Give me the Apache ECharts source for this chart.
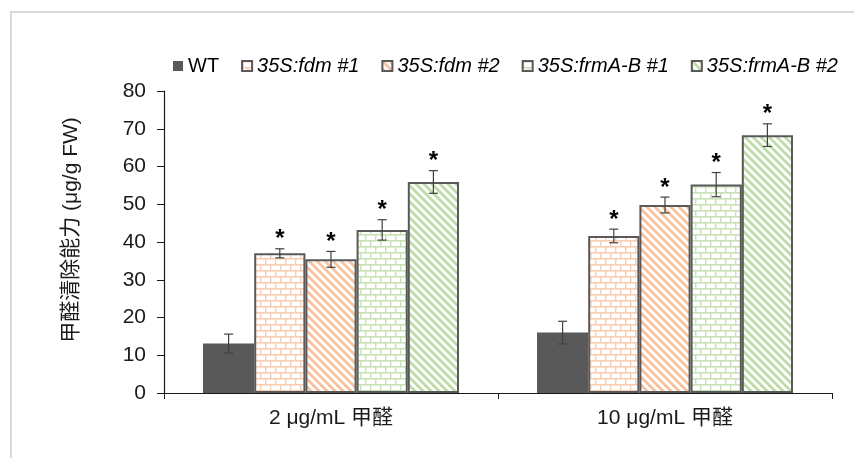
<!DOCTYPE html>
<html><head><meta charset="utf-8">
<script src="https://cdn.jsdelivr.net/npm/echarts@6/dist/echarts.min.js"></script>
<style>html,body{margin:0;padding:0;background:#fff}#c{width:854px;height:458px}</style>
</head><body><div id="c"></div>
<script>
const categories = ['2 μg/mL 甲醛', '10 μg/mL 甲醛'];
const seriesNames = ['WT', '35S:fdm #1', '35S:fdm #2', '35S:frmA-B #1', '35S:frmA-B #2'];
const valuesWT = [13.1, 16.0];
const valuesFdm1 = [37.0, 41.6];
const valuesFdm2 = [35.4, 49.8];
const valuesFrm1 = [43.2, 55.2];
const valuesFrm2 = [55.9, 68.3];
const errWT = [2.5, 3.0];
const errFdm1 = [1.2, 1.8];
const errFdm2 = [2.1, 2.1];
const errFrm1 = [2.7, 3.2];
const errFrm2 = [3.0, 3.0];
const sigWT = [false, false];
const sigFdm1 = [true, true];
const sigFdm2 = [true, true];
const sigFrm1 = [true, true];
const sigFrm2 = [true, true];
const yTicks = [0, 10, 20, 30, 40, 50, 60, 70, 80];

const allValues = [valuesWT, valuesFdm1, valuesFdm2, valuesFrm1, valuesFrm2];
const allErr = [errWT, errFdm1, errFdm2, errFrm1, errFrm2];
const allSig = [sigWT, sigFdm1, sigFdm2, sigFrm1, sigFrm2];

function brick(color) {
  const c = document.createElement('canvas');
  c.width = 10; c.height = 12;
  const g = c.getContext('2d');
  g.fillStyle = '#fff'; g.fillRect(0, 0, 10, 12);
  g.fillStyle = color;
  g.fillRect(0, 0, 10, 1.6);
  g.fillRect(0, 6, 10, 1.6);
  g.fillRect(0, 0, 1.4, 6);
  g.fillRect(5, 6, 1.4, 6);
  return c;
}
function diag(color) {
  const c = document.createElement('canvas');
  c.width = 8; c.height = 8;
  const g = c.getContext('2d');
  g.fillStyle = '#fff'; g.fillRect(0, 0, 8, 8);
  g.strokeStyle = color; g.lineWidth = 2.8;
  for (const x0 of [-8, 0, 8]) {
    g.beginPath(); g.moveTo(x0 - 1, -1); g.lineTo(x0 + 9, 9); g.stroke();
  }
  return c;
}
const orange = '#F6C2A0';
const green = '#BDDCA8';
const orangeBrick = '#F8CDB0';
const greenBrick = '#C8E2B6';
const fills = [
  '#595959',
  { image: brick(orangeBrick), repeat: 'repeat' },
  { image: diag(orange), repeat: 'repeat' },
  { image: brick(greenBrick), repeat: 'repeat' },
  { image: diag(green), repeat: 'repeat' }
];

const FONT = 'Liberation Sans, Arial, Noto Sans CJK SC, sans-serif';
const BARFRAC = 0.1533;

const series = [];
seriesNames.forEach((n, i) => {
  series.push({
    name: n, type: 'bar', barWidth: (BARFRAC * 100) + '%', barGap: '0%',
    data: allValues[i],
    itemStyle: { color: fills[i], borderColor: '#595959', borderWidth: i === 0 ? 0 : 2 },
    emphasis: { disabled: true }
  });
});
seriesNames.forEach((n, i) => {
  const data = allValues[i].map((v, c) => [c, v, allErr[i][c], allSig[i][c] ? 1 : 0]);
  series.push({
    type: 'custom', z: 10, silent: true,
    data: data,
    encode: { x: 0, y: 1 },
    renderItem: function (params, api) {
      const c = api.value(0), v = api.value(1), e = api.value(2), s = api.value(3);
      const catW = api.size([1, 0])[0];
      const bw = catW * BARFRAC;
      const center = api.coord([c, v]);
      const x = center[0] + (i - 2) * bw;
      const yTop = api.coord([c, v + e])[1];
      const yBot = api.coord([c, v - e])[1];
      const cap = 4.5;
      const st = { stroke: '#404040', lineWidth: 1.2 };
      const children = [
        { type: 'line', shape: { x1: x, y1: yTop, x2: x, y2: yBot }, style: st },
        { type: 'line', shape: { x1: x - cap, y1: yTop, x2: x + cap, y2: yTop }, style: st },
        { type: 'line', shape: { x1: x - cap, y1: yBot, x2: x + cap, y2: yBot }, style: st }
      ];
      if (s) {
        children.push({ type: 'text', style: { text: '*', x: x, y: yTop + 3, align: 'center', verticalAlign: 'bottom', fill: '#000', font: 'bold 24px ' + FONT } });
      }
      return { type: 'group', children: children };
    }
  });
});

const chart = echarts.init(document.getElementById('c'));
chart.setOption({
  animation: false,
  backgroundColor: '#fff',
  graphic: [{ type: 'rect', shape: { x: 11, y: 12, width: 1000, height: 1000 }, style: { fill: 'none', stroke: '#d9d9d9', lineWidth: 2 }, silent: true }],
  legend: {
    data: seriesNames, left: 168, top: 51, width: 690, icon: 'rect', itemWidth: 10, itemHeight: 10, itemGap: 22,
    formatter: n => n === 'WT' ? n : '{i|' + n + '}',
    textStyle: { fontFamily: FONT, fontSize: 20, color: '#000', rich: { i: { fontFamily: FONT, fontSize: 20, fontStyle: 'italic', color: '#000' } } },
    selectedMode: false
  },
  grid: { left: 164, top: 91, right: 22, bottom: 65, containLabel: false },
  xAxis: {
    type: 'category', data: categories,
    axisLine: { lineStyle: { color: '#1a1a1a', width: 1.2 } },
    axisTick: { show: true, length: 6, interval: 0, lineStyle: { color: '#1a1a1a' } },
    axisLabel: { fontFamily: FONT, fontSize: 21, color: '#1a1a1a', margin: 15 }
  },
  yAxis: {
    type: 'value', min: 0, max: 80, interval: 10,
    name: '甲醛清除能力 (μg/g FW)', nameLocation: 'middle', nameGap: 82, nameRotate: 90,
    nameTextStyle: { fontFamily: FONT, fontSize: 21, color: '#1a1a1a', padding: [0, 0, 0, 24] },
    axisLine: { show: true, lineStyle: { color: '#1a1a1a', width: 1.2 } },
    axisTick: { show: true, length: 7, lineStyle: { color: '#1a1a1a' } },
    axisLabel: { fontFamily: FONT, fontSize: 21, color: '#1a1a1a', margin: 18, formatter: v => yTicks.includes(v) ? String(v) : '' },
    splitLine: { show: false }
  },
  series: series
});
</script></body></html>
